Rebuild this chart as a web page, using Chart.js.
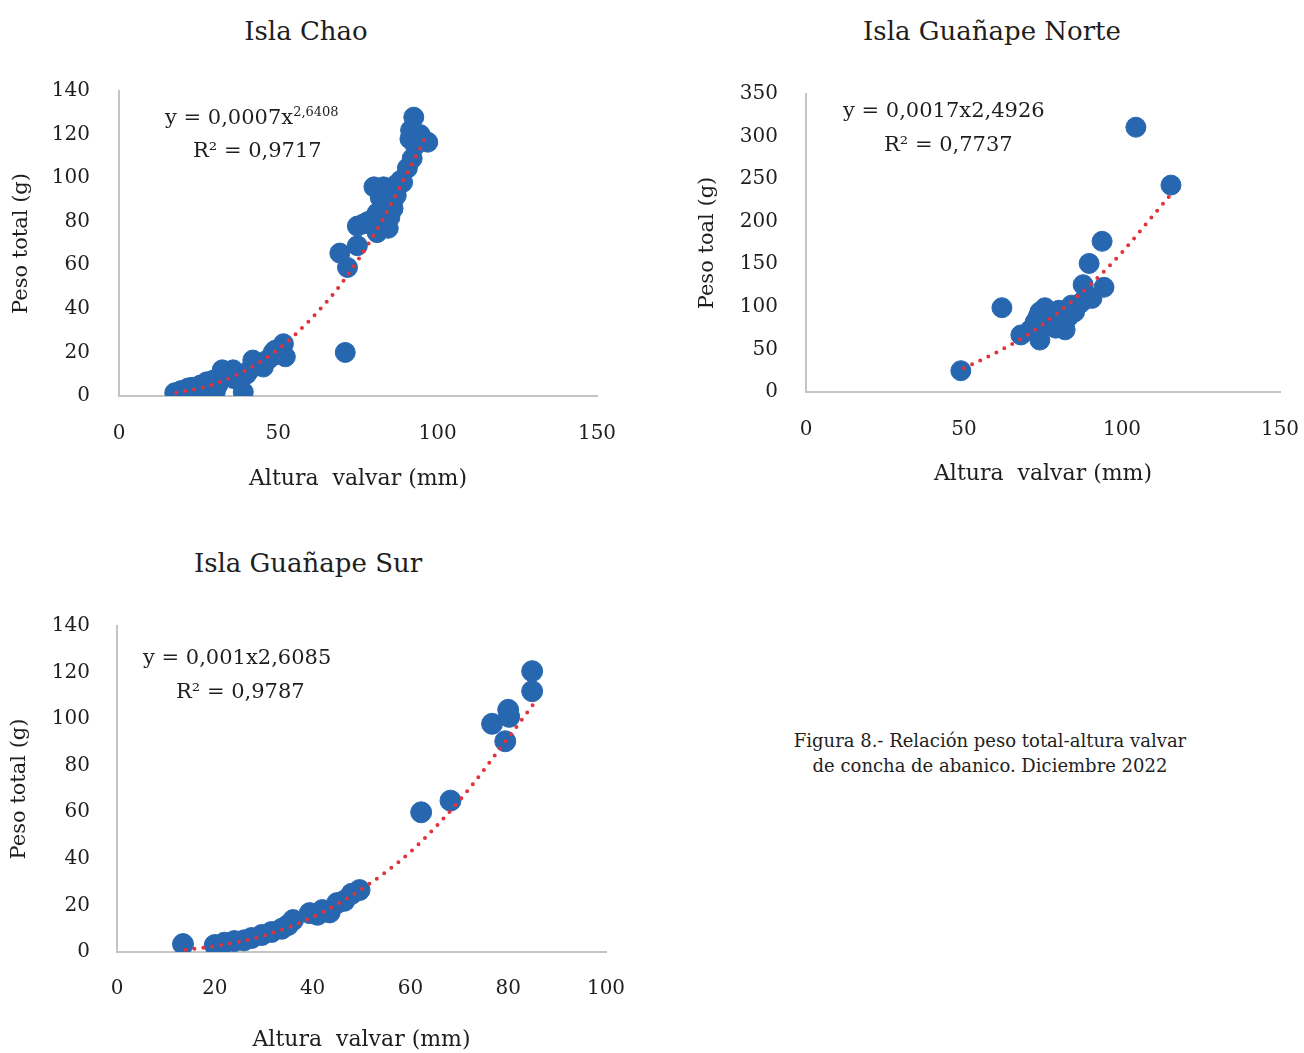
<!DOCTYPE html>
<html>
<head>
<meta charset="utf-8">
<script src="https://cdn.jsdelivr.net/npm/chart.js@4.4.1/dist/chart.umd.min.js"></script>
<style>
  body { margin: 0; background: #fff; width: 1304px; height: 1053px; position: relative; overflow: hidden; font-family: "DejaVu Serif", serif; color: #1e1e1e; }
  .box { position: absolute; }
  .title { position: absolute; font-size: 26px; transform: translate(-50%, -50%); white-space: nowrap; }
  .eq { position: absolute; font-size: 21px; transform: translateY(-50%); white-space: nowrap; }
  .eq sup { font-size: 13px; vertical-align: 8px; line-height: 0; }
  .caption { position: absolute; left: 990px; top: 753px; transform: translate(-50%, -50%); font-size: 18px; text-align: center; line-height: 25px; white-space: nowrap; }
</style>
</head>
<body>
<div class="title" style="left:306px;top:31px">Isla Chao</div>
<div class="title" style="left:992px;top:31px">Isla Guañape Norte</div>
<div class="title" style="left:308px;top:563px">Isla Guañape Sur</div>

<div class="box" style="left:0;top:80px;width:640px;height:420px"><canvas id="chao"></canvas></div>
<div class="box" style="left:680px;top:80px;width:624px;height:420px"><canvas id="norte"></canvas></div>
<div class="box" style="left:0;top:600px;width:650px;height:453px"><canvas id="sur"></canvas></div>

<div class="eq" style="left:165px;top:117px">y = 0,0007x<sup>2,6408</sup></div>
<div class="eq" style="left:193px;top:150px">R² = 0,9717</div>
<div class="eq" style="left:843px;top:110px">y = 0,0017x2,4926</div>
<div class="eq" style="left:884px;top:144px">R² = 0,7737</div>
<div class="eq" style="left:143px;top:657px">y = 0,001x2,6085</div>
<div class="eq" style="left:176px;top:691px">R² = 0,9787</div>

<div class="caption">Figura 8.- Relación peso total-altura valvar<br>de concha de abanico. Diciembre 2022</div>

<script>
// Isla Chao
const chaoX = [17.5, 18.6, 19.5, 20.5, 21.7, 23, 24, 25.5, 26, 27.5, 28, 29.6, 30.2, 31, 32.4, 33, 34, 35.8, 36, 37, 38, 39, 40, 41, 42, 43, 44, 45.3, 46, 47, 48.4, 49, 50, 51.6, 52.2,
               71, 69.3, 71.7, 74.8, 74.8, 76.7, 78, 79.5, 81, 80, 82, 83, 83, 84, 85, 81, 85, 84.5, 86, 86, 87, 87, 88.4, 89, 90.5, 92, 93, 91.5, 92.5, 94.5, 96.9, 91.3];
const chaoY = [1.5, 1.8, 2.5, 1.5, 3.7, 4, 3, 5, 4, 6.5, 5, 7.3, 1.8, 5, 12, 9, 10, 12, 8, 10, 7.3, 1.8, 10, 12, 16.5, 14, 15, 13.3, 16, 17, 20, 21, 19, 24, 18,
               20, 65.6, 59, 78, 69, 79, 80, 81, 75, 96, 91, 96, 86, 80, 94.5, 84, 82, 77, 86, 90, 92, 97, 99, 98, 104.6, 109, 115, 122, 128, 120, 116.5, 118];
const chaoTrendX = [18, 25, 30, 40, 50, 60, 70, 80, 90, 96];
const chaoTrendY = [1.5, 3.5, 5.5, 12, 21.5, 35, 52, 74, 101, 118];
const chaoXTicks = [0, 50, 100, 150];
const chaoYTicks = [0, 20, 40, 60, 80, 100, 120, 140];

// Isla Guañape Norte
const norteX = [49, 62, 68, 71, 72.5, 73.4, 74, 74, 75.6, 76, 77, 79, 80, 81, 82, 83, 84, 85, 86.7, 87.7, 88, 89, 89.6, 90.5, 93.7, 94.3, 104.4, 115.5];
const norteY = [25, 99, 67, 73, 82, 88, 94, 61, 99, 79, 90, 75, 96, 85, 73, 88, 102, 94, 104, 126, 108, 113, 151, 110, 177, 123, 311, 243];
const norteTrendX = [50, 60, 70, 80, 90, 100, 110, 115];
const norteTrendY = [28, 46, 67, 94, 126, 164, 208, 230];
const norteXTicks = [0, 50, 100, 150];
const norteYTicks = [0, 50, 100, 150, 200, 250, 300, 350];

// Isla Guañape Sur
const surX = [13.5, 20, 22, 24, 26, 27.5, 29.6, 31.6, 33.7, 35, 36, 39.4, 41, 42, 43.5, 45, 46.5, 48, 49.6, 62.2, 68.2, 76.7, 80, 80.2, 79.4, 84.9, 84.9];
const surY = [3.4, 3, 4, 4.7, 5, 6, 7.3, 8.6, 10, 11.6, 13.7, 16.7, 16, 18, 17, 21, 22, 25, 26.6, 60, 65, 98, 104, 101, 90.5, 120.6, 112];
const surTrendX = [14, 20, 30, 40, 50, 60, 70, 80, 85];
const surTrendY = [1, 2.5, 7, 15, 27, 43, 65, 92, 106];
const surXTicks = [0, 20, 40, 60, 80, 100];
const surYTicks = [0, 20, 40, 60, 80, 100, 120, 140];

const BLUE = '#2767b0';
const RED = '#e2323a';
const AXIS = '#c4c4c4';

Chart.defaults.font.family = '"DejaVu Serif", serif';
Chart.defaults.color = '#1e1e1e';

const pts = (xs, ys) => xs.map((x, i) => ({ x: x, y: ys[i] }));

function makeChart(id, d) {
    return new Chart(document.getElementById(id), {
        type: 'scatter',
        data: {
            datasets: [
                {
                    type: 'line',
                    data: pts(d.tx, d.ty),
                    borderColor: RED,
                    borderWidth: 4,
                    borderDash: [0, 9],
                    borderCapStyle: 'round',
                    pointRadius: 0,
                    fill: false,
                    cubicInterpolationMode: 'monotone',
                    order: 0
                },
                {
                    data: pts(d.x, d.y),
                    backgroundColor: BLUE,
                    borderColor: BLUE,
                    pointRadius: d.r,
                    pointHoverRadius: d.r,
                    order: 1
                }
            ]
        },
        options: {
            responsive: true,
            maintainAspectRatio: false,
            animation: false,
            events: [],
            layout: { padding: { top: d.pad.top, right: d.pad.right, bottom: 0, left: 0 } },
            plugins: { legend: { display: false }, tooltip: { enabled: false } },
            scales: {
                x: {
                    type: 'linear',
                    min: d.xt[0],
                    max: d.xt[d.xt.length - 1],
                    afterBuildTicks: s => { s.ticks = d.xt.map(v => ({ value: v })); },
                    afterFit: s => { s.height = d.xh; s.paddingLeft = 0; s.paddingRight = 0; },
                    grid: { display: false, drawTicks: false },
                    border: { display: true, color: AXIS, width: 2 },
                    ticks: { font: { size: 20 }, padding: d.xtp, maxRotation: 0 },
                    title: { display: true, text: 'Altura  valvar (mm)', font: { size: 22 }, padding: { top: 0, bottom: d.xtt } }
                },
                y: {
                    type: 'linear',
                    min: d.yt[0],
                    max: d.yt[d.yt.length - 1],
                    afterBuildTicks: s => { s.ticks = d.yt.map(v => ({ value: v })); },
                    afterFit: s => { s.width = d.yw; s.paddingTop = 0; s.paddingBottom = 0; },
                    grid: { display: false, drawTicks: false },
                    border: { display: true, color: AXIS, width: 2 },
                    ticks: { font: { size: 20 }, padding: d.ytp },
                    title: { display: true, text: d.ylabel, font: { size: 21 }, padding: { top: d.ytt, bottom: 0 } }
                }
            }
        }
    });
}

makeChart('chao', {
    x: chaoX, y: chaoY, tx: chaoTrendX, ty: chaoTrendY, xt: chaoXTicks, yt: chaoYTicks, r: 10,
    pad: { top: 11, right: 43 }, xh: 104, yw: 119, xtp: 26, xtt: 8, ytp: 29, ytt: 9, ylabel: 'Peso total (g)'
});

makeChart('norte', {
    x: norteX, y: norteY, tx: norteTrendX, ty: norteTrendY, xt: norteXTicks, yt: norteYTicks, r: 10,
    pad: { top: 14, right: 24 }, xh: 108, yw: 126, xtp: 26, xtt: 13, ytp: 28, ytt: 15, ylabel: 'Peso toal (g)'
});

makeChart('sur', {
    x: surX, y: surY, tx: surTrendX, ty: surTrendY, xt: surXTicks, yt: surYTicks, r: 10.5,
    pad: { top: 26, right: 44 }, xh: 101, yw: 117, xtp: 25, xtt: 0, ytp: 27, ytt: 7, ylabel: 'Peso total (g)'
});
</script>
</body>
</html>
